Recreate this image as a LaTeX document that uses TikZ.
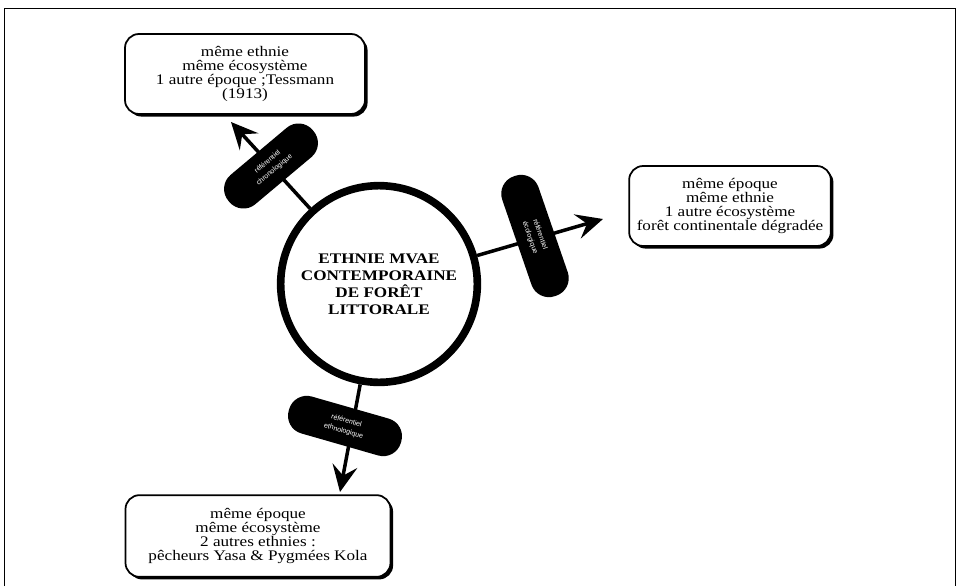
\documentclass[tikz,border=0pt]{standalone}
\usepackage{fontspec}
\setmainfont[FakeStretch=1.17]{Liberation Serif}
\newfontfamily\pillfont{Liberation Sans}
\usetikzlibrary{arrows.meta,shadows}

\begin{document}
\begin{tikzpicture}[x=0.03cm,y=-0.03cm,
      boite/.style={rectangle,rounded corners=0.42cm,draw=black,line width=1.5pt,fill=white,
        align=center,font=\fontsize{12.5}{12}\selectfont,
        drop shadow={shadow xshift=2.2pt,shadow yshift=-2.2pt,fill=black,opacity=1}},
      pill/.style={rectangle,rounded corners=0.55cm,fill=black,text=white,align=center,
        minimum height=1.15cm,font=\pillfont\fontsize{6}{9}\selectfont},
      arr/.style={line width=3pt,-{Stealth[length=0.8cm,width=0.75cm,inset=0.3cm]}}
      ]
      \useasboundingbox (0,0) rectangle (957,586);
      \draw[line width=0.8pt] (4,586) |- (955,8) -- (955,586);
      \node (hub) [circle,draw,line width=6.5pt,minimum size=5.9cm,align=center,
        font=\bfseries\fontsize{12.5}{14.5}\selectfont] at (379,284)
        {ETHNIE MVAE\\CONTEMPORAINE\\DE FORÊT\\LITTORALE};
      \node (tl) [boite,minimum width=7.2cm,minimum height=2.4cm] at (245,74)
        {même ethnie\\même écosystème\\1 autre époque ;Tessmann\\(1913)};
      \node (rt) [boite,minimum width=6.05cm,minimum height=2.4cm] at (730,206)
        {même époque\\même ethnie\\1 autre écosystème\\forêt continentale dégradée};
      \node (bt) [boite,minimum width=7.95cm,minimum height=2.45cm] at (258,536)
        {même époque\\même écosystème\\2 autres ethnies :\\pêcheurs Yasa \& Pygmées Kola};
      \coordinate (tltip) at (231,122);
      \coordinate (rttip) at (603,219);
      \coordinate (bttip) at (340,492);
      \draw[arr] (hub) -- (tltip);
      \draw[arr] (hub) -- (rttip);
      \draw[arr] (hub) -- (bttip);
      \node (p1) [pill,minimum width=3.3cm,rotate=40] at (271,166) {référentiel\\chronologique};
      \node (p2) [pill,minimum width=3.8cm,rotate=-71] at (535,236) {référentiel\\écologique};
      \node (p3) [pill,minimum width=3.5cm,rotate=-16] at (345,426) {référentiel\\ethnologique};
    \end{tikzpicture}
\end{document}
